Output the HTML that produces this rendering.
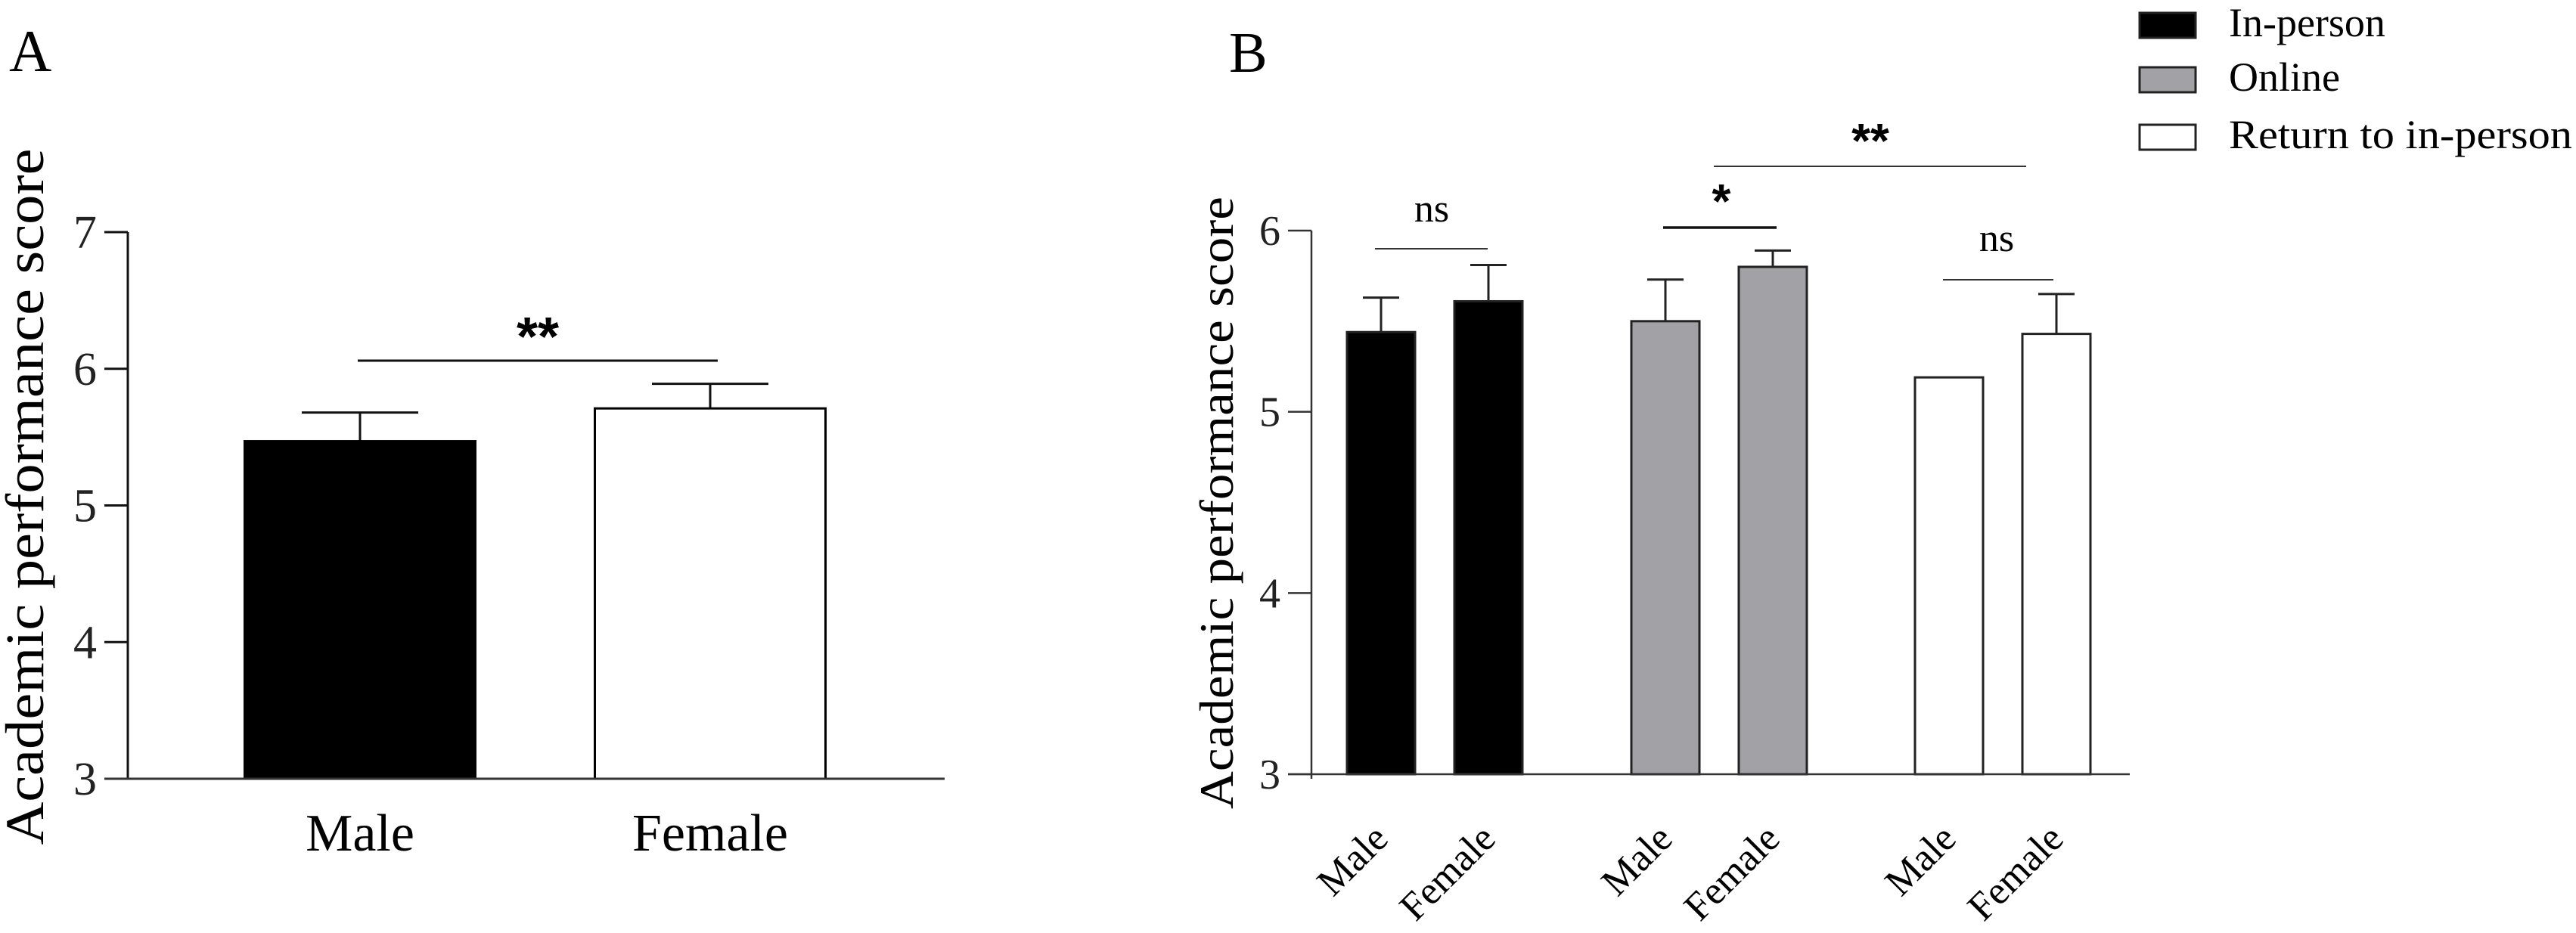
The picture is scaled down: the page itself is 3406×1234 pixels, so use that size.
<!DOCTYPE html>
<html><head><meta charset="utf-8"><style>
html,body{margin:0;padding:0;background:#fff;}
svg{display:block;font-family:"Liberation Serif",serif;}
</style></head><body>
<svg id="chart" width="3406" height="1234" viewBox="0 0 3406 1234" xmlns="http://www.w3.org/2000/svg">
<rect width="3406" height="1234" fill="#fff"/>
<g id="panelA"></g>
<g id="panelB"></g>
</svg>
<script>
// Panel A data
const aCategories = ["Male", "Female"];
const aMeans = [5.47, 5.71];
const aErrors = [0.21, 0.18];
const aColors = ["#000000", "#ffffff"];
const aTicks = [3, 4, 5, 6, 7];
// Panel B data
const bGroups = ["In-person", "Online", "Return to in-person"];
const bCategories = ["Male", "Female"];
const bInPerson = [5.44, 5.61];
const bOnline = [5.50, 5.80];
const bReturn = [5.19, 5.43];
const bInPersonErr = [0.19, 0.20];
const bOnlineErr = [0.23, 0.09];
const bReturnErr = [0.0, 0.22];
const bTicks = [3, 4, 5, 6];

const NS = "http://www.w3.org/2000/svg";
function mk(parent, tag, attrs, text) {
  const el = document.createElementNS(NS, tag);
  for (const k in attrs) el.setAttribute(k, attrs[k]);
  if (text !== undefined) el.textContent = text;
  parent.appendChild(el);
  return el;
}

// ---------- Panel A ----------
const A = document.getElementById('panelA');
const aX0 = 169, aXEnd = 1249, aYBot = 1030, aYTop = 307, aMin = 3, aMax = 7;
const ay = v => aYBot - (v - aMin) / (aMax - aMin) * (aYBot - aYTop);
const aCenters = [476, 939], aBarW = 305;
const ax = i => aCenters[i];

let t = mk(A, 'text', {x: 12, y: 94, 'font-size': 78});
t.textContent = 'A';



t = mk(A, 'text', {transform: 'translate(57,657) rotate(-90)', 'text-anchor': 'middle', 'font-size': 72, textLength: 921, lengthAdjust: 'spacingAndGlyphs'});
t.textContent = 'Academic performance score';



let l = mk(A, 'line', {x1: aX0, y1: aYTop, x2: aX0, y2: aYBot, stroke: '#111', 'stroke-width': 3});


aTicks.forEach(v => {
  const tk = mk(A, 'line', {x1: aX0 - 31, y1: ay(v), x2: aX0, y2: ay(v), stroke: '#111', 'stroke-width': 3});
  
  
  const tl = mk(A, 'text', {x: 128, y: ay(v) + 21, 'text-anchor': 'end', 'font-size': 62, fill: '#222'}, String(v));
  
  
});
aMeans.forEach((m, i) => {
  const cx = ax(i);
  const er = mk(A, 'path', {d: `M${cx},${ay(m)} V${ay(m + aErrors[i])} M${cx - 77},${ay(m + aErrors[i])} H${cx + 77}`, stroke: '#111', 'stroke-width': 3, fill: 'none'});
  
  
  const b = mk(A, 'rect', {x: cx - aBarW / 2, y: ay(m), width: aBarW, height: aYBot - ay(m), fill: aColors[i], stroke: '#000', 'stroke-width': 3});
  
  
  const lb = mk(A, 'text', {x: cx, y: 1125, 'text-anchor': 'middle', 'font-size': 70}, aCategories[i]);
  
  
});
l = mk(A, 'line', {x1: aX0 - 31, y1: aYBot, x2: aXEnd, y2: aYBot, stroke: '#333', 'stroke-width': 3});


l = mk(A, 'line', {x1: 473, y1: 477, x2: 949, y2: 477, stroke: '#111', 'stroke-width': 3});


t = mk(A, 'text', {x: 711, y: 470, 'text-anchor': 'middle', 'font-size': 72, 'font-weight': 'bold', 'font-family': '"Liberation Sans",sans-serif'}, '**');



// ---------- Panel B ----------
const B = document.getElementById('panelB');
const bX0 = 1734, bXEnd = 2816, bYBot = 1024, bYTop = 305, bMin = 3, bMax = 6;
const by = v => bYBot - (v - bMin) / (bMax - bMin) * (bYBot - bYTop);
const groupCenters = [1897, 2273, 2648], bOffset = 71, bBarW = 90;
const bx = (g, i) => groupCenters[g] + (i === 0 ? -bOffset : bOffset);
const seriesVals = [bInPerson, bOnline, bReturn];
const seriesErr = [bInPersonErr, bOnlineErr, bReturnErr];
const seriesFill = ['#000000', '#a2a2a6', '#ffffff'];

t = mk(B, 'text', {x: 1625, y: 95, 'font-size': 76});
t.textContent = 'B';



t = mk(B, 'text', {transform: 'translate(1630,665) rotate(-90)', 'text-anchor': 'middle', 'font-size': 64, textLength: 810, lengthAdjust: 'spacingAndGlyphs'});
t.textContent = 'Academic performance score';



l = mk(B, 'line', {x1: bX0, y1: bYTop, x2: bX0, y2: bYBot + 6, stroke: '#333', 'stroke-width': 2.5});


bTicks.forEach(v => {
  const tk = mk(B, 'line', {x1: bX0 - 31, y1: by(v), x2: bX0, y2: by(v), stroke: '#333', 'stroke-width': 2.5});
  
  
  const tl = mk(B, 'text', {x: 1693, y: by(v) + 19, 'text-anchor': 'end', 'font-size': 56, fill: '#222'}, String(v));
  
  
});
seriesVals.forEach((vals, g) => {
  vals.forEach((m, i) => {
    const cx = bx(g, i);
    const e = seriesErr[g][i];
    if (e > 0) {
      const er = mk(B, 'path', {d: `M${cx},${by(m)} V${by(m + e)} M${cx - 24},${by(m + e)} H${cx + 24}`, stroke: '#222', 'stroke-width': 3, fill: 'none'});
      
      
    }
    const b = mk(B, 'rect', {x: cx - bBarW / 2, y: by(m), width: bBarW, height: bYBot - by(m), fill: seriesFill[g], stroke: '#222', 'stroke-width': 3});
    
    
    const lb = mk(B, 'text', {transform: `translate(${cx + 12},${1112}) rotate(-45)`, 'text-anchor': 'end', 'font-size': 52}, bCategories[i]);
    
    
  });
});
l = mk(B, 'line', {x1: bX0 - 31, y1: bYBot, x2: bXEnd, y2: bYBot, stroke: '#333', 'stroke-width': 2.5});



// significance annotations
l = mk(B, 'line', {x1: 1818, y1: 329, x2: 1967, y2: 329, stroke: '#333', 'stroke-width': 2});


t = mk(B, 'text', {x: 1893, y: 293, 'text-anchor': 'middle', 'font-size': 52}, 'ns');


l = mk(B, 'line', {x1: 2199, y1: 301, x2: 2349, y2: 301, stroke: '#111', 'stroke-width': 3.5});


t = mk(B, 'text', {x: 2276, y: 288, 'text-anchor': 'middle', 'font-size': 64, 'font-weight': 'bold', 'font-family': '"Liberation Sans",sans-serif'}, '*');


l = mk(B, 'line', {x1: 2266, y1: 220, x2: 2679, y2: 220, stroke: '#333', 'stroke-width': 2});


t = mk(B, 'text', {x: 2473, y: 208, 'text-anchor': 'middle', 'font-size': 64, 'font-weight': 'bold', 'font-family': '"Liberation Sans",sans-serif'}, '**');


l = mk(B, 'line', {x1: 2569, y1: 370, x2: 2715, y2: 370, stroke: '#333', 'stroke-width': 2});


t = mk(B, 'text', {x: 2640, y: 332, 'text-anchor': 'middle', 'font-size': 52}, 'ns');



// legend
const legendY = [17, 89, 165];
bGroups.forEach((g, i) => {
  const s = mk(B, 'rect', {x: 2829, y: legendY[i], width: 74, height: 33, fill: seriesFill[i], stroke: '#222', 'stroke-width': 3});
  
  
  const lt = mk(B, 'text', {x: 2947, y: legendY[i] + 31, 'font-size': 54}, g);
  if (i === 2) { lt.setAttribute('textLength', 454); lt.setAttribute('lengthAdjust', 'spacingAndGlyphs'); }
  
  
});
</script>
</body></html>
